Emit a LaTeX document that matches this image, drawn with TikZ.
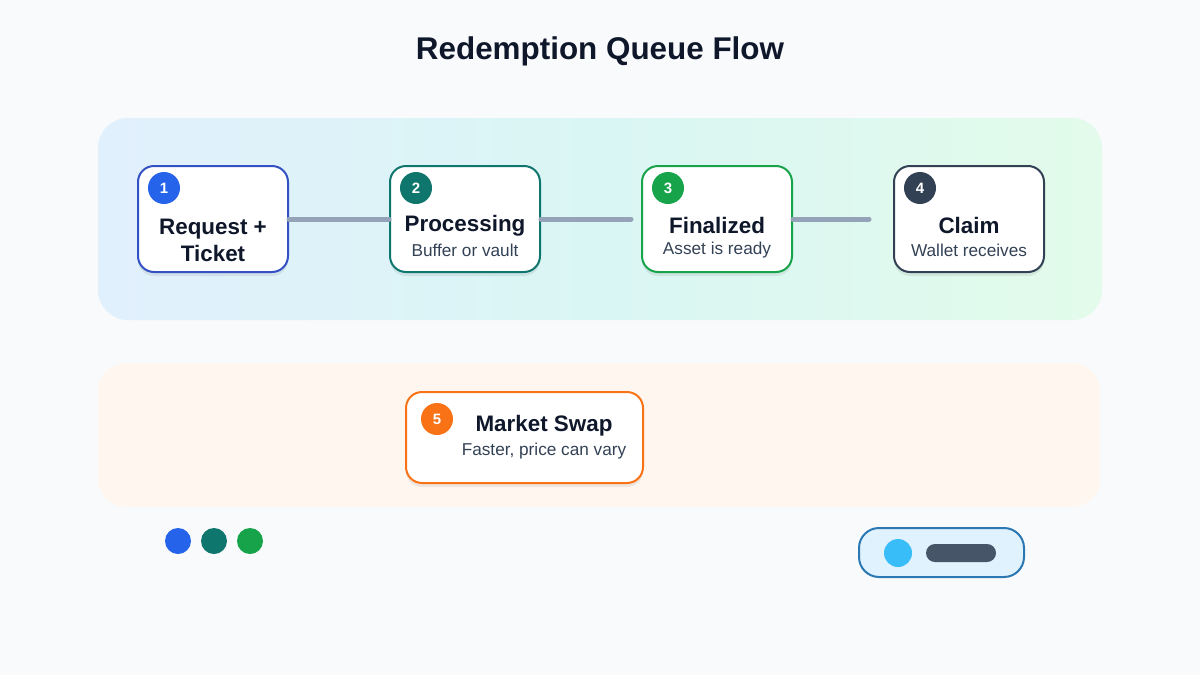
\documentclass[tikz,border=0pt]{standalone}
\usepackage{fontspec}
\setmainfont{Liberation Sans}
\definecolor{bgc}{HTML}{F8FAFC}
\definecolor{ink}{HTML}{0F172A}
\definecolor{sub}{HTML}{334155}
\definecolor{cblue}{HTML}{2563EB}
\definecolor{cblueb}{HTML}{3451C4}
\definecolor{cteal}{HTML}{0F766E}
\definecolor{cgreen}{HTML}{16A34A}
\definecolor{cslate}{HTML}{334155}
\definecolor{corange}{HTML}{F97316}
\definecolor{line}{HTML}{94A3B8}
\definecolor{bandL}{HTML}{E1F0FD}
\definecolor{bandM}{HTML}{DAF6F4}
\definecolor{bandR}{HTML}{E2FBEA}
\definecolor{bandO}{HTML}{FFF7EF}
\definecolor{pillf}{HTML}{E0F2FE}
\definecolor{pillb}{HTML}{2C78B3}
\definecolor{sky}{HTML}{38BDF8}
\definecolor{bar}{HTML}{475569}
\begin{document}
\begin{tikzpicture}[x=1pt,y=-1pt,
  stepbox/.style={draw=#1, line width=2pt, fill=white, rounded corners=16pt,
    minimum width=150pt, minimum height=106pt, inner sep=0pt},
  shadowbox/.style={fill=black, fill opacity=0.07, rounded corners=16pt, draw=none},
  badge/.style={circle, fill=#1, minimum size=32pt, inner sep=0pt, text=white, font=\bfseries\fontsize{15}{15}\selectfont},
  ttl/.style={font=\bfseries\fontsize{22.4}{27}\selectfont, text=ink, align=center},
  subt/.style={font=\fontsize{17.2}{20}\selectfont, text=sub},
  conn/.style={draw=line, line width=5pt, line cap=round},
  dot/.style={circle, fill=#1, minimum size=26pt, inner sep=0pt}]
\useasboundingbox (0,0) rectangle (1200,675);
\fill[bgc] (0,0) rectangle (1200,675);
\node[font=\bfseries\fontsize{31.4}{34}\selectfont, text=ink] (title) at (600,51) {Redemption Queue Flow};
% bands
\shade[left color=bandL, right color=bandR, middle color=bandM, rounded corners=30pt] (98,118) rectangle (1102,320);
\fill[bandO, rounded corners=28pt] (98,363) rectangle (1100,507);
% shadows
\foreach \cx in {213,465,717,969} {
  \fill[shadowbox] (\cx-75,169) rectangle (\cx+75,276);
}
\fill[shadowbox] (406,395) rectangle (643,487);
% steps
\node[stepbox=cblueb] (s1) at (213,219) {};
\node[stepbox=cteal] (s2) at (465,219) {};
\node[stepbox=cgreen] (s3) at (717,219) {};
\node[stepbox=cslate] (s4) at (969,219) {};
\draw[conn] (s1.east) -- (s2.west);
\draw[conn, shorten >=10pt] (s2.east) -- (s3.west);
\draw[conn, shorten >=24pt] (s3.east) -- (s4.west);
\node[badge=cblue] (b1) at (164,188) {1};
\node[badge=cteal] (b2) at (416,188) {2};
\node[badge=cgreen] (b3) at (668,188) {3};
\node[badge=cslate] (b4) at (920,188) {4};
\node[ttl] (t1) at (213,240) {Request +\\Ticket};
\node[ttl] (t2) at (465,225.5) {Processing};
\node[subt] (u2) at (465,250.5) {Buffer or vault};
\node[ttl] (t3) at (717,225.5) {Finalized};
\node[subt] (u3) at (717,250.5) {Asset is ready};
\node[ttl] (t4) at (969,225.5) {Claim};
\node[subt] (u4) at (969,250.5) {Wallet receives};
% market swap
\node[stepbox=corange, minimum width=237pt, minimum height=91pt] (s5) at (524.5,437.5) {};
\node[badge=corange] (b5) at (437,419) {5};
\node[ttl] (t5) at (544,425.5) {Market Swap};
\node[subt] (u5) at (544,451.5) {Faster, price can vary};
% dots
\node[dot=cblue] (d1) at (178,541) {};
\node[dot=cteal] (d2) at (214,541) {};
\node[dot=cgreen] (d3) at (250,541) {};
% pill
\node[draw=pillb, fill=pillf, line width=2pt, rounded corners=20pt, minimum width=165pt, minimum height=49pt] (pill) at (941.5,552.5) {};
\node[circle, fill=sky, minimum size=28pt, inner sep=0pt] (pc) at (898,553) {};
\node[fill=bar, rounded corners=9pt, minimum width=70pt, minimum height=18pt, inner sep=0pt] (pb) at (961,553) {};
\end{tikzpicture}
\end{document}
